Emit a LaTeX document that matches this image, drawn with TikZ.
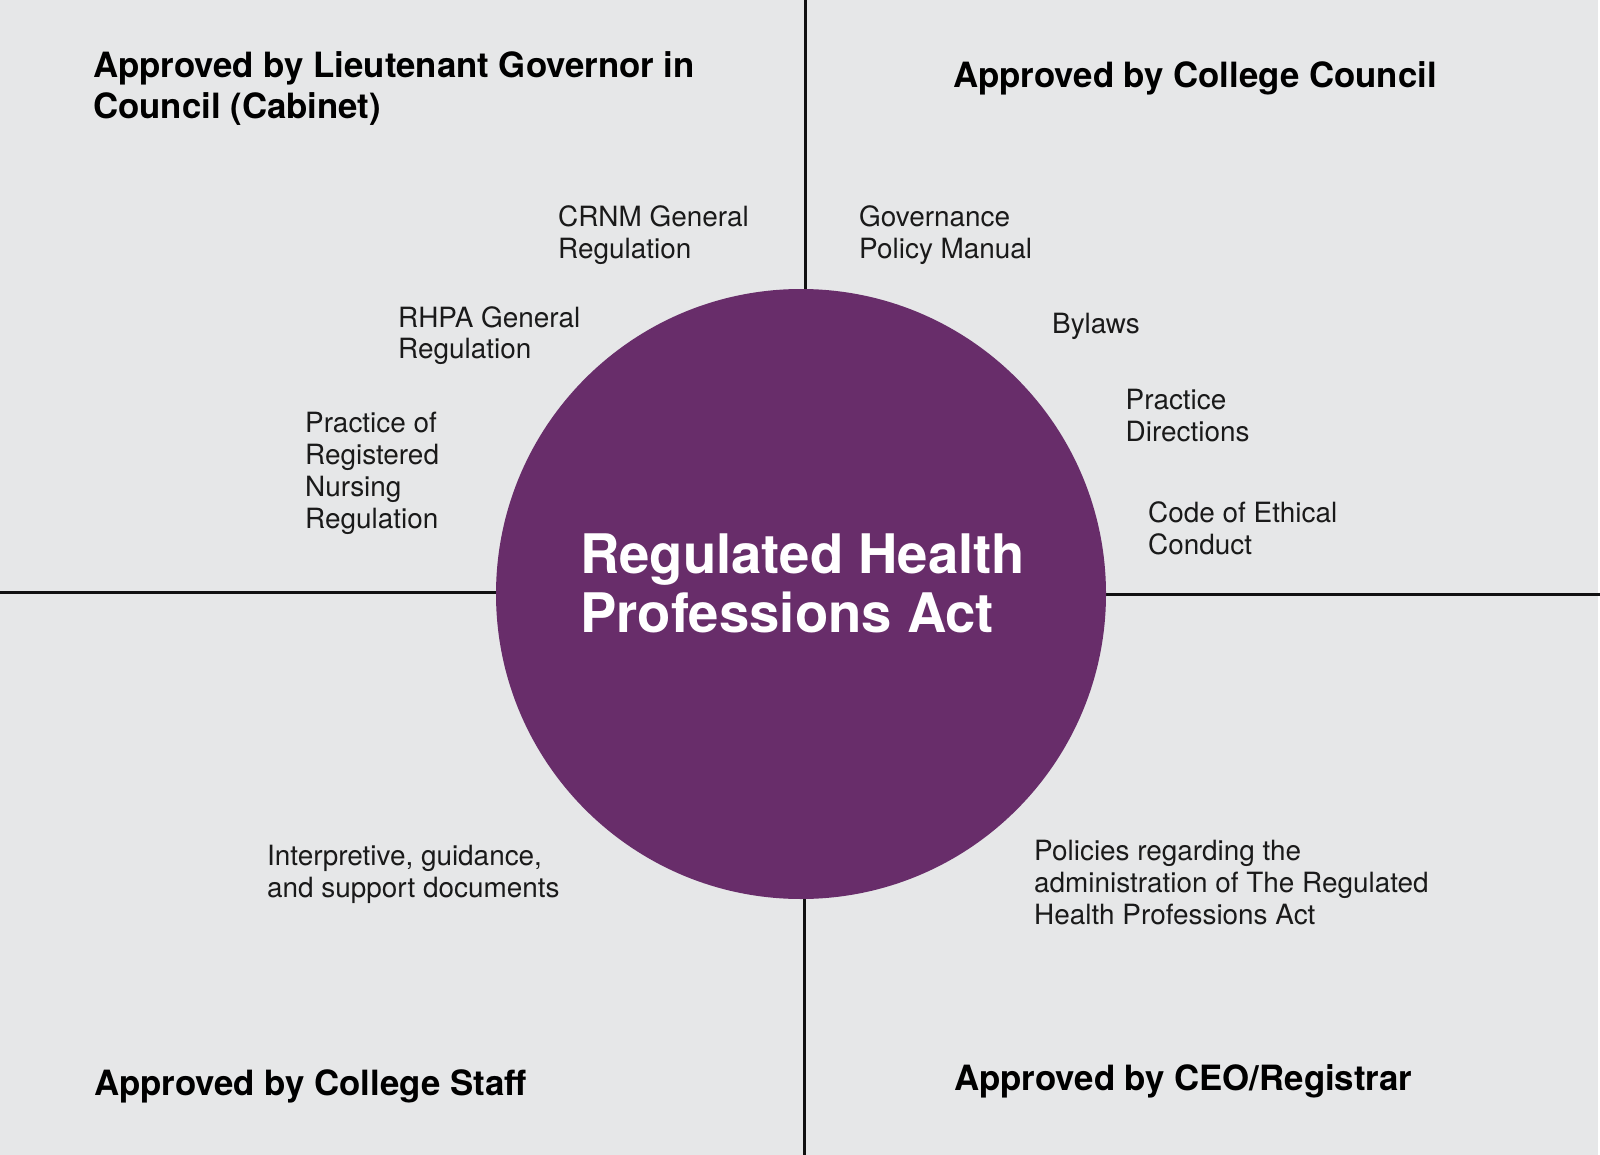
\documentclass[tikz,border=0pt]{standalone}
\usepackage{fontspec}
\setmainfont{TeX Gyre Heros}
\begin{document}
\begin{tikzpicture}[x=1pt,y=-1pt,
  bodytext/.style={anchor=base west,align=left,inner sep=0pt,text=textdark,
    font=\fontsize{27.9}{32}\selectfont},
  titletext/.style={anchor=base west,align=left,inner sep=0pt,text=black,
    font=\bfseries\fontsize{34.8}{41}\selectfont},
  divider/.style={line width=3pt,draw=linedark},
]
\definecolor{bggray}{HTML}{E6E7E8}
\definecolor{actpurple}{HTML}{682D6A}
\definecolor{textdark}{HTML}{1A1A1A}
\definecolor{linedark}{HTML}{111111}
\useasboundingbox (0,0) rectangle (1600,1155);
\fill[bggray] (0,0) rectangle (1598,1155);
% divider end points
\coordinate (topA) at (805,0);
\coordinate (topB) at (805,300);
\coordinate (leftA) at (0,592);
\coordinate (leftB) at (500,592);
\coordinate (rightA) at (1099,594);
\coordinate (rightB) at (1600,594);
\coordinate (botA) at (804,890);
\coordinate (botB) at (804,1155);
\draw[divider] (topA) -- (topB);
\draw[divider] (leftA) -- (leftB);
\draw[divider] (rightA) -- (rightB);
\draw[divider] (botA) -- (botB);
% central circle
\node[circle,fill=actpurple,minimum size=610pt,inner sep=0pt] (act) at (801,594) {};
\node[anchor=base west,align=left,inner sep=0pt,text=white,
  font=\bfseries\fontsize{54.5}{59}\selectfont] (acttext) at (580,632)
  {Regulated Health\\Professions Act};
% quadrant titles (anchor = baseline of the last line)
\node[titletext] (tcabinet) at (93,118.5) {Approved by Lieutenant Governor in\\Council (Cabinet)};
\node[titletext] (tcouncil) at (953,88) {Approved by College Council};
\node[titletext] (tstaff) at (94,1095) {Approved by College Staff};
\node[titletext] (tceo) at (954,1090) {Approved by CEO/Registrar};
% documents (anchor = baseline of the last line)
\node[bodytext] (crnm) at (558,259) {CRNM General\\Regulation};
\node[bodytext] (rhpa) at (398,359) {RHPA General\\Regulation};
\node[bodytext] (prn) at (305,528.5) {Practice of\\Registered\\Nursing\\Regulation};
\node[bodytext] (gov) at (859,259) {Governance\\Policy Manual};
\node[bodytext] (bylaws) at (1052,333.5) {Bylaws};
\node[bodytext] (pdir) at (1125.5,441.5) {Practice\\Directions};
\node[bodytext] (code) at (1148,554.5) {Code of Ethical\\Conduct};
\node[bodytext] (interp) at (267,897) {Interpretive, guidance,\\and support documents};
\node[bodytext] (policies) at (1034,924) {Policies regarding the\\administration of The Regulated\\Health Professions Act};
\end{tikzpicture}
\end{document}
